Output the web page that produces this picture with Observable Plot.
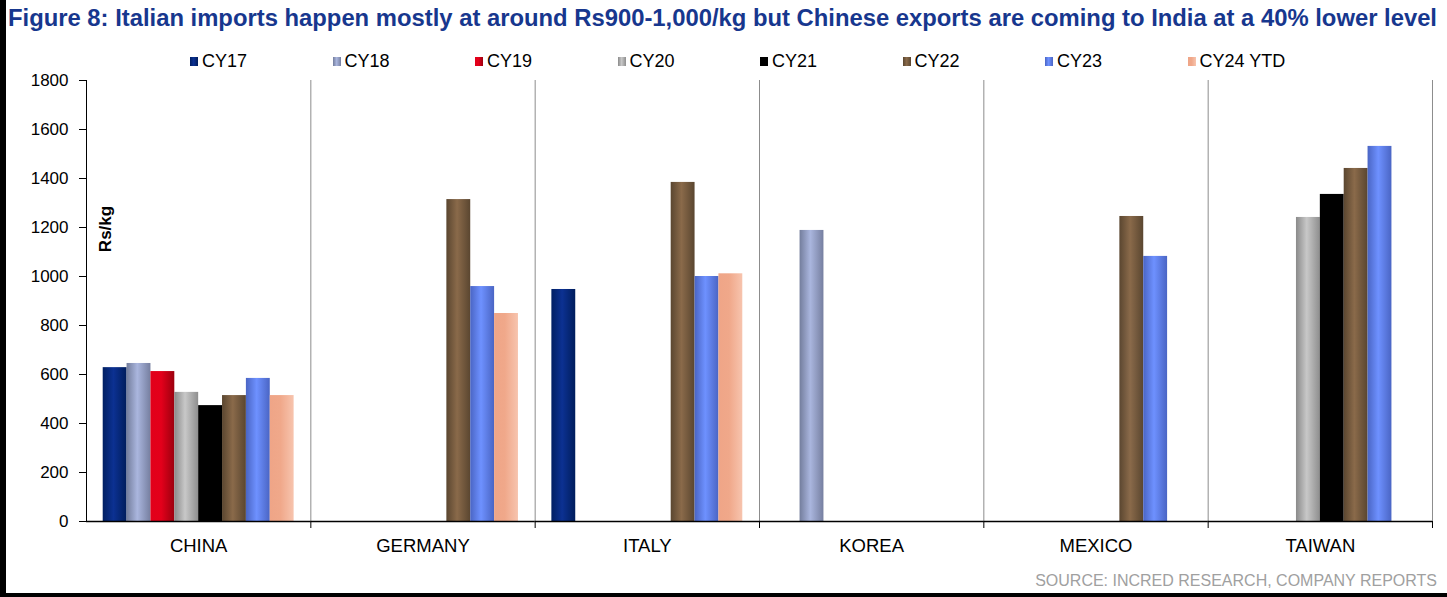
<!DOCTYPE html>
<html><head><meta charset="utf-8">
<script src="https://cdn.jsdelivr.net/npm/d3@7"></script>
<script src="https://cdn.jsdelivr.net/npm/@observablehq/plot@0.6"></script>
<style>
body{margin:0;background:#fff;font-family:"Liberation Sans",Arial,sans-serif;}
#wrap{position:relative;width:1447px;height:597px;overflow:hidden;background:#fff}
#leftbar{position:absolute;left:0;top:0;width:6px;height:597px;background:#000}
#bottombar{position:absolute;left:0;top:593px;width:1447px;height:4px;background:#000}
#title{position:absolute;left:8px;top:6px;font-weight:bold;font-size:23.5px;line-height:24px;color:#17378e;white-space:nowrap;transform-origin:0 0}
#legend{position:absolute;left:190px;top:51px;display:flex}
.item{width:142.5px;display:flex;align-items:center;font-size:18px;color:#000}
.sw{width:8px;height:9px;margin-right:4px}
#chart{position:absolute;left:0;top:70px}
#ylabel{position:absolute;left:106px;top:229px;transform:translate(-50%,-50%) rotate(-90deg);font-weight:bold;font-size:17px;white-space:nowrap}
#source{position:absolute;right:10px;top:572px;font-size:16px;color:#a0a0a0;white-space:nowrap}
</style></head>
<body>
<svg width="0" height="0" style="position:absolute"><defs id="defs"></defs></svg>
<div id="wrap">
  <div id="leftbar"></div>
  <div id="title">Figure 8: Italian imports happen mostly at around Rs900-1,000/kg but Chinese exports are coming to India at a 40% lower level</div>
  <div id="legend"></div>
  <div id="chart"></div>
  <div id="ylabel">Rs/kg</div>
  <div id="source">SOURCE: INCRED RESEARCH, COMPANY REPORTS</div>
  <div id="bottombar"></div>
</div>
<script>
// ---- data ----
const countries = ["CHINA", "GERMANY", "ITALY", "KOREA", "MEXICO", "TAIWAN"];
const series = ["CY17", "CY18", "CY19", "CY20", "CY21", "CY22", "CY23", "CY24 YTD"];
const cy17 = [628, null, 947, null, null, null];
const cy18 = [645, null, null, 1188, null, null];
const cy19 = [612, null, null, null, null, null];
const cy20 = [527, null, null, null, null, 1241];
const cy21 = [473, null, null, null, null, 1335];
const cy22 = [514, 1314, 1384, null, 1245, 1441];
const cy23 = [584, 959, 1000, null, 1082, 1531];
const cy24 = [514, 849, 1011, null, null, null];
const yTicks = [0, 200, 400, 600, 800, 1000, 1200, 1400, 1600, 1800];

// ---- styles ----
const gradStops = [
  ["#001f63", "#0c3192", "#001d5c"],
  ["#737d9c", "#aab6de", "#767fa0"],
  ["#e2001a", "#e3001b", "#9c000e"],
  ["#8a8a8a", "#c8c8c8", "#8e8e8e"],
  ["#000000", "#000000", "#000000"],
  ["#5a4630", "#8a6a4a", "#5a4630"],
  ["#4a65c4", "#6e91ff", "#4a65c4"],
  ["#efa587", "#f0a88a", "#f7c4ae"]
];
const defs = document.getElementById("defs");
const ns = "http://www.w3.org/2000/svg";
const gradIds = gradStops.map((stops, i) => {
  const g = document.createElementNS(ns, "linearGradient");
  g.setAttribute("id", "g" + i);
  g.setAttribute("x1", "0"); g.setAttribute("x2", "1");
  g.setAttribute("y1", "0"); g.setAttribute("y2", "0");
  [0, 0.45, 1].forEach((o, j) => {
    const s = document.createElementNS(ns, "stop");
    s.setAttribute("offset", o);
    s.setAttribute("stop-color", stops[j]);
    g.appendChild(s);
  });
  defs.appendChild(g);
  return "url(#g" + i + ")";
});

// ---- title fit ----
const title = document.getElementById("title");
const tw = title.getBoundingClientRect().width;
title.style.transform = `scaleX(${1429 / tw})`;

// ---- legend ----
const legend = document.getElementById("legend");
series.forEach((s, i) => {
  const it = document.createElement("div");
  it.className = "item";
  const sw = document.createElement("span");
  sw.className = "sw";
  sw.style.background = `linear-gradient(to right, ${gradStops[i][0]}, ${gradStops[i][1]} 45%, ${gradStops[i][2]})`;
  it.appendChild(sw);
  it.appendChild(document.createTextNode(s));
  legend.appendChild(it);
});

// ---- table ----
const valuesBySeries = [cy17, cy18, cy19, cy20, cy21, cy22, cy23, cy24];
const rows = [];
series.forEach((s, i) => countries.forEach((c, j) => {
  const v = valuesBySeries[i][j];
  if (v != null) rows.push({country: c, series: s, value: v});
}));

const chart = Plot.plot({
  width: 1447,
  height: 491,
  marginLeft: 86,
  marginRight: 15,
  marginTop: 10,
  marginBottom: 40,
  style: {fontFamily: "Liberation Sans, Arial, sans-serif", fontSize: "17px", color: "#000", background: "transparent"},
  fx: {domain: countries, padding: 0, round: false, label: null, axis: "bottom", tickSize: 0, tickPadding: 17},
  x: {domain: series, paddingInner: 0, paddingOuter: 0.7, round: false, axis: null},
  y: {domain: [0, 1800], ticks: yTicks, tickFormat: d => String(d), label: null, tickSize: 7, tickPadding: 11},
  color: {domain: series, range: gradIds},
  marks: [
    Plot.frame({anchor: "right", stroke: "#8c8c8c"}),
    Plot.frame({anchor: "right", stroke: "#000", insetTop: 441, insetBottom: -6}),
    Plot.barY(rows, {fx: "country", x: "series", y: "value", fill: "series"}),
    Plot.ruleY([0], {stroke: "#000", strokeWidth: 1.5}),
    Plot.frame({anchor: "left", facetAnchor: "left", stroke: "#000"})
  ]
});
chart.querySelectorAll("[aria-label='fx-axis tick label'] text, g[aria-label='fx-axis tick label']").forEach(el => el.setAttribute("font-size", "18.5"));
document.getElementById("chart").appendChild(chart);
</script>
</body></html>
